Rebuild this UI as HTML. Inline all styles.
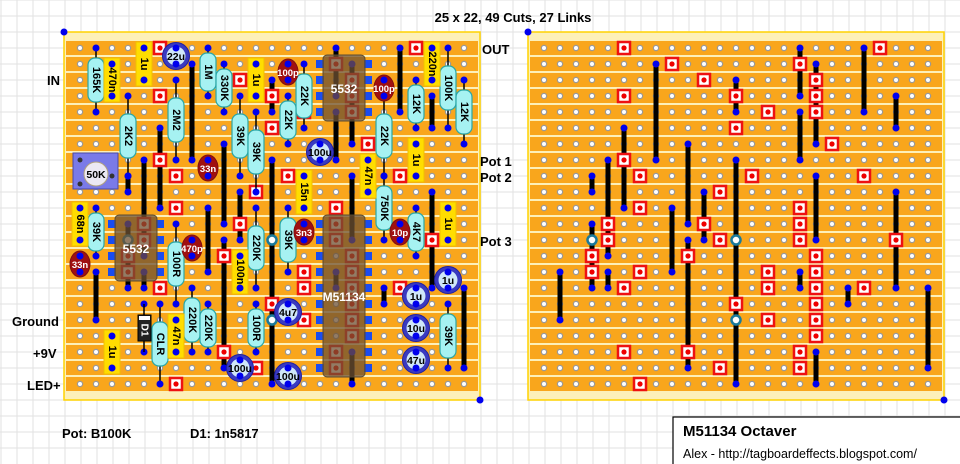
<!DOCTYPE html>
<html><head><meta charset="utf-8"><style>
html,body{margin:0;padding:0;background:#fff;}
body{width:960px;height:464px;overflow:hidden;position:relative;font-family:"Liberation Sans",sans-serif;}
svg{position:absolute;left:0;top:0;}
</style></head><body>
<svg id="s" width="960" height="464" xmlns="http://www.w3.org/2000/svg" font-family="Liberation Sans, sans-serif"></svg>
<script>
var S=document.getElementById('s');var h='';
for(var x=1;x<960;x+=16)h+='<line x1="'+x+'" y1="0" x2="'+x+'" y2="464" stroke="#e2e2e2" stroke-width="1"/>';
for(var y=0;y<464;y+=16)h+='<line x1="0" y1="'+y+'" x2="960" y2="'+y+'" stroke="#e2e2e2" stroke-width="1"/>';
function board(ox){
  var bx=ox-16;
  h+='<rect x="'+bx+'" y="32" width="416" height="368" fill="#fdf0b8" stroke="#ffd200" stroke-width="1.5"/>';
  for(var r=0;r<22;r++){var y=48+16*r;h+='<rect x="'+(bx+2)+'" y="'+(y-7)+'" width="412" height="14" fill="#f9a61c"/>';}
  for(var r=0;r<22;r++)for(var c=0;c<25;c++)h+='<circle cx="'+(ox+16*c)+'" cy="'+(48+16*r)+'" r="2.6" fill="#fff" stroke="#999" stroke-width="1.2"/>';
  h+='<circle cx="'+bx+'" cy="32" r="3.5" fill="#0000ee"/><circle cx="'+(bx+416)+'" cy="400" r="3.5" fill="#0000ee"/>';
}
var cuts=[[5,0],[21,0],[8,1],[16,1],[10,2],[17,2],[5,3],[12,3],[17,3],[17,4],[14,4],[12,5],[18,6],[5,7],[6,8],[13,8],[20,8],[11,9],[6,10],[16,10],[4,11],[10,11],[16,11],[4,12],[11,12],[16,12],[22,12],[3,13],[9,13],[17,13],[3,14],[6,14],[14,14],[17,14],[5,15],[14,15],[17,15],[20,15],[12,16],[17,16],[14,17],[17,17],[17,18],[5,19],[9,19],[16,19],[11,20],[16,20],[6,21]];
var links=[[5,5,10],[7,1,7],[9,6,11],[16,0,3],[16,4,7],[17,1,6],[20,0,4],[22,3,5],[12,2,4],[4,7,13],[3,8,9],[3,11,15],[8,10,14],[10,9,12],[12,7,21],[17,8,12],[22,9,15],[9,12,20],[1,14,17],[4,14,15],[16,14,15],[19,15,16],[24,15,20],[17,19,21]];
var rings=[[3,12],[12,12],[12,17]];
function copper(ox){
  links.forEach(function(l){var x=ox+16*l[0];h+='<line x1="'+x+'" y1="'+(48+16*l[1])+'" x2="'+x+'" y2="'+(48+16*l[2])+'" stroke="#000" stroke-width="5"/><circle cx="'+x+'" cy="'+(48+16*l[1])+'" r="3.5" fill="#0000ee"/><circle cx="'+x+'" cy="'+(48+16*l[2])+'" r="3.5" fill="#0000ee"/>';});
  cuts.forEach(function(c){var x=ox+16*c[0],y=48+16*c[1];h+='<rect x="'+(x-6)+'" y="'+(y-6)+'" width="12" height="12" fill="#fff" stroke="#ee1111" stroke-width="2.5"/><circle cx="'+x+'" cy="'+y+'" r="2.6" fill="#ee0000"/>';});
  rings.forEach(function(c){h+='<circle cx="'+(ox+16*c[0])+'" cy="'+(48+16*c[1])+'" r="4.5" fill="#fff" stroke="#1a7a9a" stroke-width="2.5"/>';});
}
board(80);board(544);copper(80);copper(544);
function dot(x,y){h+='<circle cx="'+x+'" cy="'+y+'" r="3.5" fill="#0000ee"/>';}
function vt(x,y,t,col,fs){h+='<text x="'+x+'" y="'+y+'" transform="rotate(90 '+x+' '+y+')" text-anchor="middle" dominant-baseline="central" font-size="'+(fs||11)+'" font-weight="bold" fill="'+(col||'#000')+'">'+t+'</text>';}
function res(x,y1,y2,t){h+='<line x1="'+x+'" y1="'+y1+'" x2="'+x+'" y2="'+y2+'" stroke="#000" stroke-width="1.5"/>';dot(x,y1);dot(x,y2);
  var m=(y1+y2)/2,L=Math.min(44,y2-y1-10);h+='<rect x="'+(x-8)+'" y="'+(m-L/2)+'" width="16" height="'+L+'" rx="7" fill="#a6f2f2" stroke="#2aa6a6" stroke-width="1.2"/>';vt(x,m,t);}
function fcap(x,y1,y2,t){h+='<rect x="'+(x-8)+'" y="'+(y1-6)+'" width="16" height="'+(y2-y1+12)+'" fill="#ffdd00" stroke="#f0c000"/>';dot(x,y1);dot(x,y2);vt(x,(y1+y2)/2,t);}
function ccap(x,y,t){h+='<ellipse cx="'+x+'" cy="'+y+'" rx="10" ry="13" fill="#a01010" stroke="#801010"/>';dot(x,y-8);dot(x,y+8);h+='<text x="'+x+'" y="'+(y+4)+'" text-anchor="middle" font-size="9.5" font-weight="bold" fill="#fff">'+t+'</text>';}
function ecap(x,y,t){h+='<circle cx="'+x+'" cy="'+y+'" r="13.5" fill="#3a3ac0" stroke="#2020a0"/><circle cx="'+x+'" cy="'+y+'" r="9.5" fill="#cfe6f8"/>';dot(x,y-8);dot(x,y+8);h+='<text x="'+x+'" y="'+(y+4)+'" text-anchor="middle" font-size="10.5" font-weight="bold" fill="#000">'+t+'</text>';}
function ic(x1,x2,y1,n,t){var y2=y1+16*(n-1);
  for(var i=0;i<n;i++){h+='<rect x="'+(x1-4)+'" y="'+(y1+16*i-4)+'" width="8" height="8" fill="#1a4cf0"/><rect x="'+(x2-4)+'" y="'+(y1+16*i-4)+'" width="8" height="8" fill="#1a4cf0"/>';}
  h+='<rect x="'+(x1+3)+'" y="'+(y1-9)+'" width="'+(x2-x1-6)+'" height="'+(y2-y1+18)+'" rx="4" fill="rgba(110,80,50,0.75)" stroke="#5a4a30"/>';
  h+='<text x="'+((x1+x2)/2)+'" y="'+((y1+y2)/2+5)+'" text-anchor="middle" font-size="12" font-weight="bold" fill="#fff">'+t+'</text>';}
ic(320,368,64,4,'5532');ic(112,160,224,4,'5532');ic(320,368,224,10,'M51134');
[['165K',96,48,112],['2K2',128,96,176],['2M2',176,80,160],['1M',208,48,96],['330K',224,64,112],['39K',240,96,176],['39K',256,112,192],['22K',304,64,128],['22K',288,96,144],['22K',384,96,176],['12K',416,80,128],['100K',448,48,128],['12K',464,80,144],['750K',384,176,240],['39K',288,208,272],['39K',96,208,256],['100R',176,224,304],['220K',256,208,288],['220K',192,288,352],['220K',208,304,352],['100R',256,304,352],['4K7',416,208,256],['39K',448,304,368],['CLR',160,304,384]].forEach(function(r){res(r[1],r[2],r[3],r[0]);});
[['470n',112,64,96],['1u',144,48,80],['1u',256,64,96],['220n',432,48,80],['1u',416,144,176],['15n',304,176,208],['47n',368,160,192],['1u',448,208,240],['68n',80,208,240],['100n',240,256,288],['1u',112,336,368],['47n',176,320,352]].forEach(function(c){fcap(c[1],c[2],c[3],c[0]);});
[['100p',288,72],['100p',384,88],['33n',208,168],['470p',192,248],['33n',80,264],['3n3',304,232],['10p',400,232]].forEach(function(c){ccap(c[1],c[2],c[0]);});
[['22u',176,56],['100u',320,152],['4u7',288,312],['1u',448,280],['1u',416,296],['10u',416,328],['47u',416,360],['100u',288,376],['100u',240,368]].forEach(function(c){ecap(c[1],c[2],c[0]);});
h+='<rect x="73" y="153" width="45" height="36" fill="#7a7ae8" stroke="#4848a8"/><circle cx="80" cy="160" r="2.5" fill="#333"/><circle cx="80" cy="184" r="2.5" fill="#333"/><circle cx="112" cy="176" r="2.5" fill="#333"/><circle cx="96" cy="174" r="12" fill="#ece8f4" stroke="#b0a080"/><text x="96" y="178" text-anchor="middle" font-size="10.5" font-weight="bold">50K</text>';
dot(144,304);dot(144,352);h+='<line x1="144" y1="304" x2="144" y2="352" stroke="#000" stroke-width="1.5"/><rect x="138" y="315" width="13" height="26" fill="#222" stroke="#000"/><rect x="139" y="316" width="11" height="4" fill="#fff"/>';vt(144,330,'D1','#fff',10);
function t(x,y,s,fs,a){h+='<text x="'+x+'" y="'+y+'" font-size="'+fs+'" font-weight="bold" text-anchor="'+(a||'start')+'">'+s+'</text>';}
t(47,85,'IN',13);t(12,326,'Ground',13);t(33,358,'+9V',13);t(27,390,'LED+',13);
t(482,54,'OUT',13);t(480,166,'Pot 1',13);t(480,182,'Pot 2',13);t(480,246,'Pot 3',13);
t(513,22,'25 x 22, 49 Cuts, 27 Links',13,'middle');
t(62,438,'Pot: B100K',13);t(190,438,'D1: 1n5817',13);
h+='<rect x="673" y="417" width="290" height="50" fill="#fff" stroke="#000" stroke-width="1.2"/>';
t(683,436,'M51134 Octaver',15);
h+='<text x="683" y="458" font-size="12.5">Alex - http://tagboardeffects.blogspot.com/</text>';
S.innerHTML=h;
</script>
</body></html>
